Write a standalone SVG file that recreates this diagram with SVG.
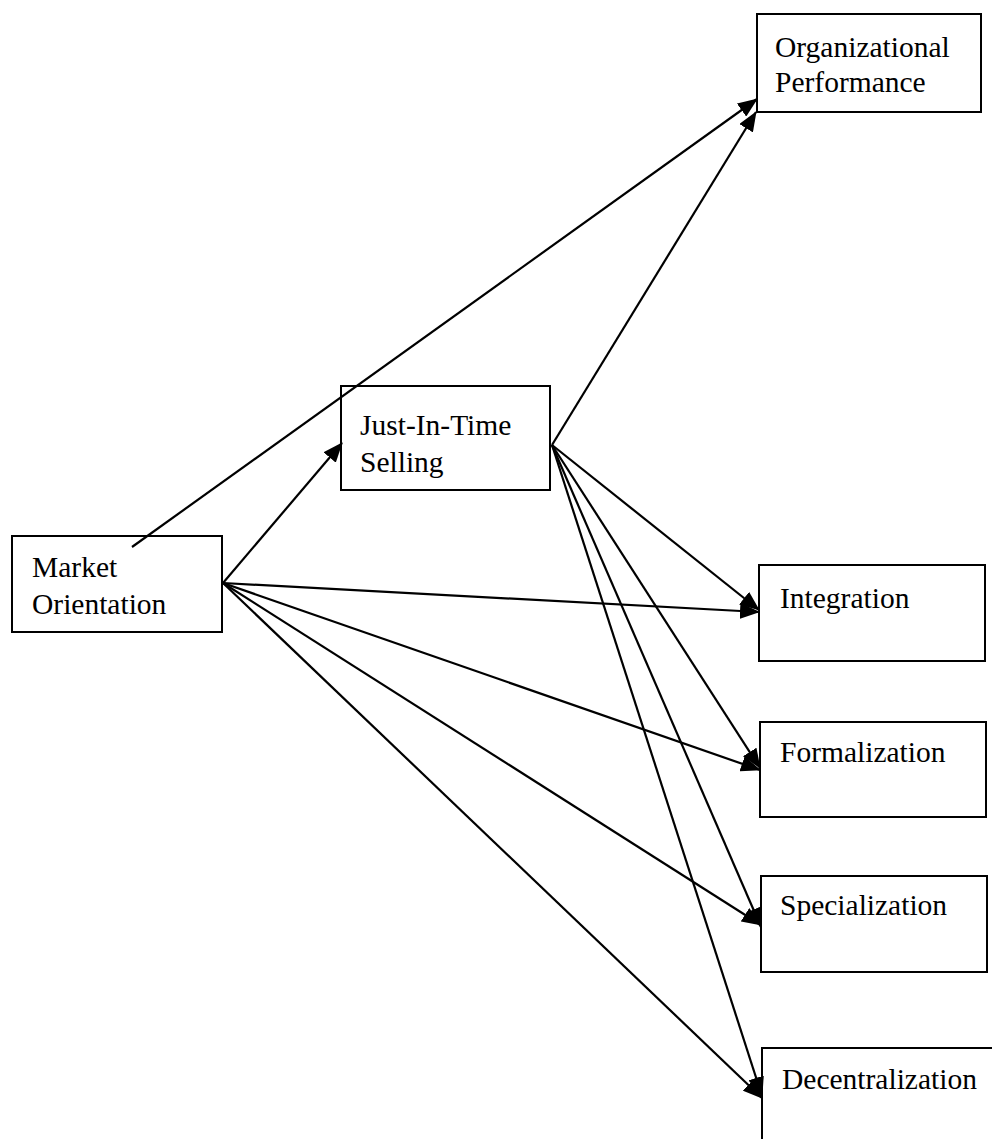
<svg xmlns="http://www.w3.org/2000/svg" width="992" height="1139" viewBox="0 0 992 1139">
<style>
.box{fill:#fff;stroke:#000;stroke-width:2}
.lbl{font-family:"Liberation Serif","Times New Roman",serif;font-size:29.5px;fill:#000}
.con{stroke:#000;stroke-width:2.2;fill:none;marker-end:url(#ah)}
</style>
<defs>
<marker id="ah" markerUnits="userSpaceOnUse" markerWidth="20" markerHeight="16" refX="19" refY="8" orient="auto">
<path d="M0,0 L20,8 L0,16 z" fill="#000"/>
</marker>
</defs>
<rect width="992" height="1139" fill="#fff"/>
<g id="org-performance">
<rect class="box" x="757" y="14" width="224" height="98"/>
<text class="lbl" x="775" y="57">Organizational</text>
<text class="lbl" x="775" y="92">Performance</text>
</g>
<g id="jit-selling">
<rect class="box" x="341" y="386" width="209" height="104"/>
<text class="lbl" x="360" y="435">Just-In-Time</text>
<text class="lbl" x="360" y="472">Selling</text>
</g>
<g id="market-orientation">
<rect class="box" x="12" y="536" width="210" height="96"/>
<text class="lbl" x="32" y="577">Market</text>
<text class="lbl" x="32" y="614">Orientation</text>
</g>
<g id="integration">
<rect class="box" x="759" y="565" width="226" height="96"/>
<text class="lbl" x="780" y="608">Integration</text>
</g>
<g id="formalization">
<rect class="box" x="760" y="722" width="226" height="95"/>
<text class="lbl" x="780" y="762">Formalization</text>
</g>
<g id="specialization">
<rect class="box" x="761" y="876" width="226" height="96"/>
<text class="lbl" x="780" y="915">Specialization</text>
</g>
<g id="decentralization">
<rect class="box" x="762" y="1048" width="260" height="120"/>
<text class="lbl" x="782" y="1089">Decentralization</text>
</g>
<g id="connectors">
<line class="con" x1="132" y1="547" x2="757" y2="99"/>
<line class="con" x1="223" y1="583" x2="342" y2="443"/>
<line class="con" x1="223" y1="583" x2="759" y2="612"/>
<line class="con" x1="223" y1="583" x2="760" y2="770"/>
<line class="con" x1="223" y1="583" x2="761" y2="925"/>
<line class="con" x1="223" y1="583" x2="762" y2="1098"/>
<line class="con" x1="552" y1="445" x2="756" y2="112"/>
<line class="con" x1="552" y1="445" x2="759" y2="610"/>
<line class="con" x1="552" y1="445" x2="760" y2="768"/>
<line class="con" x1="552" y1="445" x2="761" y2="927"/>
<line class="con" x1="552" y1="445" x2="762" y2="1096"/>
</g>
</svg>
